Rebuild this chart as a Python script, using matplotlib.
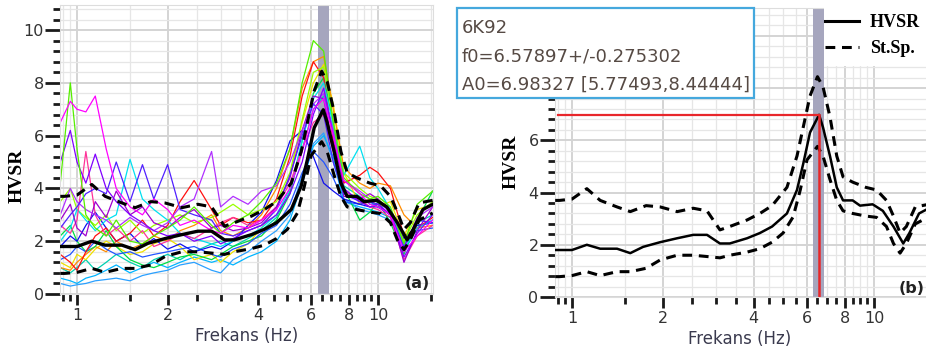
import numpy as np
import matplotlib
matplotlib.use('Agg')
import matplotlib.pyplot as plt
from matplotlib.ticker import NullFormatter
from matplotlib.patches import Rectangle
from matplotlib.lines import Line2D

# peak values from the HVSR analysis
station = '6K92'
f0 = 6.57897
f0_err = 0.275302
A0 = 6.98327
A0_lo, A0_hi = 5.77493, 8.44444

# mean HVSR curve
f_mean = [0.88, 0.91, 1.0, 1.12, 1.24, 1.41, 1.56, 1.72, 1.96, 2.23, 2.52, 2.8, 3.09, 3.33,
          3.8, 4.19, 4.6, 5.15, 5.56, 5.83, 6.14, 6.58, 6.78, 7.15, 7.53, 7.9, 8.5, 8.99,
          9.9, 10.7, 11.6, 12.5, 13.1, 14.1, 15.2]
hvsr = [1.8, 1.8, 1.8, 2.0, 1.85, 1.85, 1.68, 1.92, 2.1, 2.25, 2.38, 2.38, 2.05, 2.05,
        2.25, 2.45, 2.7, 3.2, 4.1, 5.1, 6.3, 6.98, 6.5, 5.4, 4.2, 3.7, 3.7, 3.5,
        3.55, 3.3, 2.7, 2.05, 2.45, 3.2, 3.4]

# +/- standard deviation curves
f_up = [0.88, 0.91, 1.0, 1.12, 1.24, 1.41, 1.56, 1.76, 1.96, 2.23, 2.52, 2.8, 3.09, 3.33,
        3.8, 4.19, 4.6, 5.15, 5.56, 5.83, 6.14, 6.5, 6.78, 7.15, 7.53, 7.9, 8.5, 9.4,
        10.2, 11.0, 11.6, 12.2, 12.8, 13.7, 15.2]
std_up = [3.7, 3.7, 3.75, 4.15, 3.7, 3.45, 3.27, 3.5, 3.45, 3.27, 3.4, 3.3, 2.57, 2.7,
          2.95, 3.2, 3.5, 4.2, 5.4, 6.5, 7.7, 8.44, 8.05, 6.9, 5.4, 4.6, 4.4, 4.2,
          4.1, 3.7, 3.1, 2.45, 2.7, 3.45, 3.55]
f_lo = [0.88, 0.91, 1.0, 1.12, 1.24, 1.41, 1.56, 1.76, 1.96, 2.23, 2.52, 2.8, 3.09, 3.33,
        3.8, 4.19, 4.6, 5.0, 5.4, 5.7, 6.0, 6.5, 6.78, 7.15, 7.53, 7.9, 8.5, 9.4,
        10.2, 11.0, 11.6, 12.2, 12.8, 13.7, 15.2]
std_lo = [0.78, 0.78, 0.82, 0.97, 0.82, 0.97, 0.97, 1.1, 1.42, 1.6, 1.6, 1.55, 1.5, 1.6,
          1.72, 1.85, 2.1, 2.45, 3.07, 4.1, 5.25, 5.77, 5.4, 4.5, 3.7, 3.3, 3.2, 3.1,
          3.05, 2.7, 2.05, 1.68, 2.05, 2.8, 3.07]

# individual time windows (panel a)
f_win = [0.88, 0.95, 1.0, 1.07, 1.15, 1.25, 1.35, 1.5, 1.65, 1.8, 2.0, 2.2, 2.45, 2.8, 3.0, 3.3,
         3.7, 4.1, 4.6, 5.1, 5.6, 6.1, 6.6, 7.1, 7.7, 8.7, 9.4, 10.0, 11.0, 12.2, 13.5, 15.2]
win_magenta = [6.5, 7.3, 7.0, 6.9, 7.5, 5.5, 4.0, 3.3, 3.0, 3.6, 3.2, 2.6, 2.8, 2.4, 2.3, 2.6,
               2.5, 2.8, 3.2, 4.0, 5.4, 7.0, 7.4, 6.0, 4.3, 3.8, 3.4, 3.3, 3.0, 1.6, 2.2, 2.8]
win_lime = [4.2, 8.0, 5.5, 3.0, 2.5, 2.2, 2.8, 2.0, 1.9, 2.2, 2.5, 2.8, 3.3, 2.6, 2.3, 2.7,
            3.0, 3.5, 4.2, 5.5, 8.0, 9.6, 9.2, 6.5, 4.4, 3.8, 3.6, 3.7, 3.3, 1.9, 3.4, 3.9]
win_purple = [5.0, 6.2, 5.0, 4.2, 5.3, 4.0, 3.5, 3.0, 2.7, 2.4, 2.2, 2.3, 2.0, 2.2, 1.9, 2.1,
              2.4, 2.6, 3.0, 3.8, 5.0, 6.8, 7.8, 6.0, 4.0, 3.5, 3.3, 3.4, 3.0, 1.4, 2.3, 3.0]
win_indigo = [2.5, 3.0, 3.3, 3.8, 4.0, 3.8, 5.0, 3.5, 4.9, 3.6, 4.9, 3.2, 3.0, 2.8, 2.3, 2.2,
              2.4, 2.6, 3.2, 4.5, 6.0, 7.2, 6.8, 5.0, 3.8, 3.5, 3.5, 3.4, 3.0, 1.8, 2.8, 2.7]
win_violet = [3.0, 4.0, 3.5, 3.2, 3.0, 2.8, 2.5, 2.9, 2.6, 2.4, 2.7, 3.3, 3.6, 5.4, 3.3, 3.7,
              3.4, 3.9, 4.1, 5.0, 6.2, 7.2, 7.6, 6.2, 4.3, 3.9, 3.6, 3.5, 3.1, 1.7, 2.9, 3.3]
win_cyan = [2.0, 2.5, 3.2, 2.8, 2.4, 2.8, 3.0, 5.1, 3.6, 3.2, 2.8, 2.3, 2.1, 1.9, 1.8, 2.0,
            2.2, 2.5, 3.0, 4.0, 5.8, 7.4, 8.0, 6.4, 4.5, 5.6, 4.4, 4.0, 3.2, 1.7, 2.5, 2.8]
win_red = [1.5, 1.2, 0.9, 1.6, 2.2, 2.5, 2.0, 2.3, 2.8, 2.2, 2.6, 3.5, 4.3, 3.2, 2.6, 2.9,
           2.7, 2.8, 3.6, 5.2, 7.5, 8.8, 8.2, 5.8, 4.2, 4.5, 4.8, 4.6, 4.0, 2.2, 2.5, 2.9]
win_orange = [1.0, 0.9, 1.2, 1.5, 1.8, 1.6, 2.0, 1.7, 1.9, 2.2, 2.0, 2.4, 2.6, 3.0, 2.4, 2.2,
              2.5, 3.0, 4.0, 5.5, 7.8, 8.8, 9.0, 7.0, 4.8, 4.2, 4.0, 4.2, 4.1, 3.0, 2.5, 2.6]
win_yellow = [1.2, 1.0, 1.5, 1.3, 1.7, 2.0, 1.8, 1.5, 1.6, 1.9, 2.1, 1.8, 1.3, 1.5, 1.2, 1.6,
              1.9, 2.5, 3.3, 4.5, 6.5, 8.0, 8.7, 7.2, 4.6, 3.4, 3.6, 3.3, 3.5, 2.2, 3.2, 3.4]
win_skyblue = [0.4, 0.3, 0.35, 0.4, 0.5, 0.55, 0.6, 0.5, 0.7, 0.8, 0.9, 1.1, 1.2, 0.9, 0.8, 1.3,
               1.6, 2.0, 2.4, 3.0, 4.5, 5.7, 6.1, 5.0, 3.6, 3.2, 3.1, 3.0, 2.8, 1.6, 2.5, 2.8]
win_blue = [1.8, 2.2, 2.0, 2.6, 3.1, 2.5, 2.0, 2.3, 1.8, 2.1, 1.7, 1.9, 1.6, 1.8, 1.7, 2.0,
            2.6, 3.1, 4.3, 5.8, 6.2, 5.2, 4.2, 3.9, 3.6, 3.4, 3.3, 3.3, 3.0, 2.1, 2.6, 2.7]
win_royal = [1.3, 1.5, 1.8, 1.6, 2.0, 1.7, 1.5, 1.6, 1.4, 1.5, 1.6, 1.7, 1.8, 1.5, 1.4, 1.7,
             1.9, 2.3, 2.6, 3.4, 4.6, 5.4, 5.0, 4.4, 3.5, 3.4, 3.5, 3.3, 3.0, 2.0, 2.4, 2.5]
win_green = [2.2, 2.6, 2.0, 1.6, 1.8, 2.4, 1.8, 1.3, 1.1, 1.0, 1.2, 1.4, 1.5, 1.3, 1.5, 1.8,
             2.0, 2.2, 2.8, 3.8, 5.8, 7.6, 8.2, 6.5, 4.0, 2.8, 3.1, 3.5, 2.7, 1.5, 2.8, 3.9]
win_pink = [2.6, 2.3, 2.8, 5.4, 3.0, 2.2, 2.5, 2.0, 2.4, 1.8, 2.0, 2.3, 2.1, 2.5, 2.7, 2.9,
            2.6, 2.8, 3.3, 4.2, 5.5, 6.5, 6.8, 5.4, 3.9, 3.6, 3.3, 3.2, 2.9, 1.3, 2.2, 2.6]
win_teal = [1.0, 0.8, 1.0, 1.3, 0.9, 1.2, 1.5, 1.2, 1.0, 1.3, 1.5, 1.3, 1.6, 1.9, 2.0, 1.8,
            2.1, 2.4, 2.9, 3.9, 5.5, 7.0, 7.5, 6.3, 4.1, 3.7, 3.4, 3.4, 3.2, 1.9, 2.7, 3.0]
win_darkviolet = [2.8, 3.4, 2.5, 2.2, 3.5, 2.9, 3.9, 3.0, 3.3, 2.7, 2.5, 2.9, 3.2, 2.5, 2.6, 2.4,
                  2.5, 2.7, 3.3, 4.4, 6.2, 7.5, 7.4, 5.5, 3.7, 3.6, 3.8, 3.6, 3.1, 1.2, 2.4, 3.3]
win_azure = [0.6, 0.5, 0.4, 0.6, 0.7, 0.9, 1.1, 0.8, 1.0, 1.2, 1.0, 1.2, 1.4, 1.2, 1.3, 1.1,
             1.4, 1.6, 2.0, 2.8, 4.2, 5.6, 6.0, 5.2, 3.5, 3.3, 3.2, 3.1, 2.9, 1.8, 2.6, 2.7]
win_chartreuse = [3.5, 4.0, 3.2, 2.9, 2.6, 3.0, 2.4, 2.8, 2.3, 2.6, 2.8, 3.0, 2.7, 2.9, 3.1, 3.4,
                  3.0, 3.2, 3.5, 4.6, 6.6, 8.4, 8.6, 6.6, 4.6, 4.0, 3.7, 3.6, 3.2, 2.0, 3.0, 3.5]

windows = [(win_skyblue, '#2aa0ff'), (win_azure, '#00b4ff'), (win_teal, '#00d0b0'),
           (win_yellow, '#f0e000'), (win_orange, '#ff8c00'), (win_green, '#00dd44'),
           (win_royal, '#2255ff'), (win_blue, '#1010ee'), (win_red, '#ff1010'),
           (win_chartreuse, '#99ff00'), (win_cyan, '#00e0f0'), (win_pink, '#ff3399'),
           (win_darkviolet, '#a000d0'), (win_violet, '#b030ff'), (win_indigo, '#5020ff'),
           (win_purple, '#8000ff'), (win_lime, '#55ee00'), (win_magenta, '#ff00ff')]

x_major = [1, 2, 4, 6, 8, 10]
x_minor = [0.9, 0.95, 1.5, 2.5, 3, 3.5, 4.5, 5, 5.5, 6.5, 7, 7.5, 8.5, 9, 9.5, 15]
y_major = [0, 2, 4, 6, 8, 10]

fig = plt.figure(figsize=(9.26, 3.54), dpi=100)
ax_a = fig.add_axes([60.3 / 926, 1 - 294 / 354, 372.4 / 926, 289 / 354])
ax_b = fig.add_axes([555.2 / 926, 1 - 297 / 354, 373.7 / 926, 289 / 354])

dash = (3.2, 2.2)


def style(ax, ymax):
    ax.set_xscale('log')
    ax.set_xlim(0.88, 15.2)
    ax.set_ylim(0, ymax)
    ax.set_xticks(x_major)
    ax.set_xticklabels([str(v) for v in x_major])
    ax.set_xticks(x_minor, minor=True)
    ax.xaxis.set_minor_formatter(NullFormatter())
    ax.set_yticks(y_major)
    ax.set_yticks(np.arange(0, 10.9, 0.4), minor=True)
    ax.grid(which='major', color='#d4d4d4', lw=1.4)
    ax.grid(which='minor', color='#e6e6e6', lw=0.9)
    ax.set_axisbelow(True)
    ax.tick_params(which='both', direction='out', color='#1a1a1a', width=2.0,
                   labelsize=11.5, labelcolor='#333333')
    ax.tick_params(axis='x', which='major', length=8, pad=2)
    ax.tick_params(axis='x', which='minor', length=5)
    ax.tick_params(axis='y', which='major', length=11, pad=1)
    ax.tick_params(axis='y', which='minor', length=5)
    for s in ax.spines.values():
        s.set_color('#dddddd')
    ax.axvspan(f0 - f0_err, f0 + f0_err, color='#a6a6be', lw=0, zorder=1)
    ax.set_xlabel('Frekans (Hz)', fontsize=12, color='#3a3a4e')
    ax.set_ylabel('HVSR', family='Liberation Serif', weight='bold', fontsize=14)


style(ax_a, 10.95)
style(ax_b, 11.07)
ax_a.xaxis.set_label_coords(0.499, -0.114)
ax_a.yaxis.set_label_coords(-0.094, 0.41)
ax_b.xaxis.set_label_coords(0.494, -0.114)
ax_b.yaxis.set_label_coords(-0.096, 0.467)
# the info box hides the upper y labels of panel (b)
ax_b.set_yticklabels(['0', '2', '4', '6', '', ''])

# panel (a): all windows + mean and std
for vals, c in windows:
    ax_a.plot(f_win, vals, color=c, lw=0.9, zorder=2)
ax_a.plot(f_mean, hvsr, color='black', lw=2.4, zorder=3)
ax_a.plot(f_up, std_up, color='black', lw=2.2, dashes=dash, zorder=3)
ax_a.plot(f_lo, std_lo, color='black', lw=2.2, dashes=dash, zorder=3)
ax_a.text(0.959, 0.038, '(a)', transform=ax_a.transAxes, ha='center', va='center',
          fontsize=11.5, weight='bold', color='#222222')

# panel (b): mean and std with peak marker
ax_b.plot(f_mean, hvsr, color='black', lw=1.8, zorder=3)
ax_b.plot(f_up, std_up, color='black', lw=2.2, dashes=dash, zorder=3)
ax_b.plot(f_lo, std_lo, color='black', lw=2.2, dashes=dash, zorder=3)
ax_b.plot([0.9, f0], [A0, A0], color='#e8262a', lw=1.6, zorder=4)
ax_b.plot([f0, f0], [0, A0], color='#e8262a', lw=1.8, zorder=4)
ax_b.text(0.955, 0.031, '(b)', transform=ax_b.transAxes, ha='center', va='center',
          fontsize=11.5, weight='bold', color='#222222')

# info box
fig.patches.append(Rectangle((457 / 926, 1 - 98 / 354), 297 / 926, 90 / 354,
                             transform=fig.transFigure, facecolor='white',
                             edgecolor='#45a8dd', lw=1.6, zorder=10))
info = [station,
        'f0=%g+/-%g' % (f0, f0_err),
        'A0=%g [%g,%g]' % (A0, A0_lo, A0_hi)]
for i, line in enumerate(info):
    fig.text(462 / 926, 1 - (33 + 28.5 * i) / 354, line, fontsize=13, color='#564a44',
             va='baseline', zorder=11)

# legend area
fig.patches.append(Rectangle((824 / 926, 1 - 66 / 354), 102 / 926, 66 / 354,
                             transform=fig.transFigure, facecolor='white',
                             edgecolor='none', zorder=10))
leg = fig.legend([Line2D([], [], color='black', lw=2.2),
                  Line2D([], [], color='black', lw=2.2, dashes=dash)],
                 ['HVSR', 'St.Sp.'], loc='upper left',
                 bbox_to_anchor=(825 / 926, 1 - 14 / 354), frameon=False,
                 prop=dict(family='Liberation Serif', weight='bold', size=13),
                 handlelength=1.9, handletextpad=0.6, labelspacing=0.5,
                 borderaxespad=0, borderpad=0)
leg.set_zorder(12)

fig.savefig('out.png', dpi=100)
